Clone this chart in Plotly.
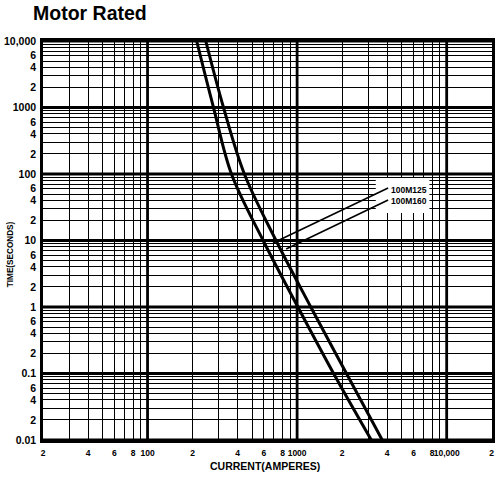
import math
import plotly.graph_objects as go

# ---------------- data ----------------
chart_title = "Motor Rated"
x_title = "CURRENT(AMPERES)"
y_title = "TIME(SECONDS)"
series_names = ["100M125", "100M160"]

times = [10000, 1000, 100, 10, 1, 0.1, 0.01]
current_100M125 = [213, 276, 364, 593, 1012, 1754, 3134]
current_100M160 = [245, 322, 444, 723, 1234, 2138, 3707]

x_tick_vals = [20, 40, 60, 80, 100, 200, 400, 600, 800, 1000,
               2000, 4000, 6000, 8000, 10000, 20000]
x_tick_text = ["2", "4", "6", "8", "100", "2", "4", "6", "8", "1000",
               "2", "4", "6", "8", "10,000", "2"]
y_tick_vals = [0.01, 0.02, 0.04, 0.06, 0.1, 0.2, 0.4, 0.6, 1, 2, 4, 6,
               10, 20, 40, 60, 100, 200, 400, 600, 1000, 2000, 4000, 6000, 10000]
y_tick_text = ["0.01", "2", "4", "6", "0.1", "2", "4", "6", "1", "2", "4", "6",
               "10", "2", "4", "6", "100", "2", "4", "6", "1000", "2", "4", "6", "10,000"]

x_decades = [100, 1000, 10000]
y_decades = [0.01, 0.1, 1, 10, 100, 1000, 10000]
x_minor = [m * d for d in [10, 100, 1000] for m in range(2, 10)] + [20000]
y_minor = [m * d for d in [0.01, 0.1, 1, 10, 100, 1000] for m in range(2, 10)]
x_minor = [v for v in x_minor if v not in x_tick_vals]
y_minor = [v for v in y_minor if v not in y_tick_vals]

leader_125_x = [4060, 690]
leader_125_y = [61.5, 9.2]
leader_160_x = [4060, 845]
leader_160_y = [40.6, 7.45]

# ---------------- figure ----------------
FONT = "Liberation Sans"
W, H = 495, 479
ML, MR, MT, MB = 43, 0, 41, 39
PW, PH = W - ML - MR, H - MT - MB


def px(xp):
    return (xp - ML) / PW


def py(yp):
    return (H - MB - yp) / PH


fig = go.Figure()

for cur, name in [(current_100M125, series_names[0]), (current_100M160, series_names[1])]:
    fig.add_trace(go.Scatter(x=cur, y=times, mode="lines", name=name,
                             line=dict(color="black", width=3, shape="spline", smoothing=1.0),
                             showlegend=False))

shapes = []
for d in x_decades:
    shapes.append(dict(type="line", xref="x", yref="paper", x0=d, x1=d, y0=0, y1=1,
                       line=dict(color="black", width=2.8), layer="below"))
for d in y_decades:
    shapes.append(dict(type="line", xref="paper", yref="y", x0=0, x1=1, y0=d, y1=d,
                       line=dict(color="black", width=3), layer="below"))
# white label box, then leader lines on top of it
shapes.append(dict(type="rect", xref="paper", yref="paper",
                   x0=px(378), x1=px(432), y0=py(213), y1=py(178),
                   fillcolor="white", line=dict(width=0), layer="above"))
for lx, ly in [(leader_125_x, leader_125_y), (leader_160_x, leader_160_y)]:
    shapes.append(dict(type="line", xref="x", yref="y", x0=lx[0], x1=lx[1], y0=ly[0], y1=ly[1],
                       line=dict(color="black", width=1.6), layer="above"))

fig.update_layout(
    width=W, height=H,
    margin=dict(l=ML, r=MR, t=MT, b=MB),
    paper_bgcolor="white", plot_bgcolor="white",
    font=dict(family=FONT, color="black"),
    title=dict(text="<b>" + chart_title + "</b>", font=dict(size=19.5, family=FONT, color="black"),
               xref="container", yref="container", x=33 / W, xanchor="left",
               y=1 - 13 / H, yanchor="middle"),
    shapes=shapes,
    xaxis=dict(type="log", range=[math.log10(20), math.log10(20000) + 0.002],
               tickmode="array", tickvals=x_tick_vals, ticktext=x_tick_text,
               tickfont=dict(size=8.5, family=FONT, weight="bold"), tickangle=0,
               ticks="", ticklabelstandoff=3,
               showgrid=True, gridcolor="black", gridwidth=1.3,
               minor=dict(tickvals=x_minor, showgrid=True, gridcolor="black", gridwidth=1.3, ticks=""),
               showline=True, linecolor="black", linewidth=2.5, mirror=True, zeroline=False),
    yaxis=dict(type="log", range=[-2, 4],
               tickmode="array", tickvals=y_tick_vals, ticktext=y_tick_text,
               tickfont=dict(size=10.5, family=FONT, weight="bold"),
               ticks="", ticklabelstandoff=2,
               showgrid=True, gridcolor="black", gridwidth=1.3,
               minor=dict(tickvals=y_minor, showgrid=True, gridcolor="black", gridwidth=1.3, ticks=""),
               showline=True, linecolor="black", linewidth=2.5, mirror=True, zeroline=False),
    annotations=[
        dict(text="<b>" + series_names[0] + "</b><br><b>" + series_names[1] + "</b>",
             xref="paper", yref="paper", x=px(391), y=py(195), xanchor="left", yanchor="middle",
             showarrow=False, align="left",
             font=dict(size=8.5, family=FONT, color="black")),
        dict(text="<b>" + y_title + "</b>", xref="paper", yref="paper",
             x=px(10), y=py(254), xanchor="center", yanchor="middle",
             textangle=-90, showarrow=False,
             font=dict(size=8.2, family=FONT, color="black")),
        dict(text="<b>" + x_title + "</b>", xref="paper", yref="paper",
             x=px(266), y=py(466), xanchor="center", yanchor="middle", showarrow=False,
             font=dict(size=10.5, family=FONT, color="black")),
    ],
)

fig.write_html("out.html", config={"displayModeBar": False},
               post_script="document.body.style.margin='0';")
